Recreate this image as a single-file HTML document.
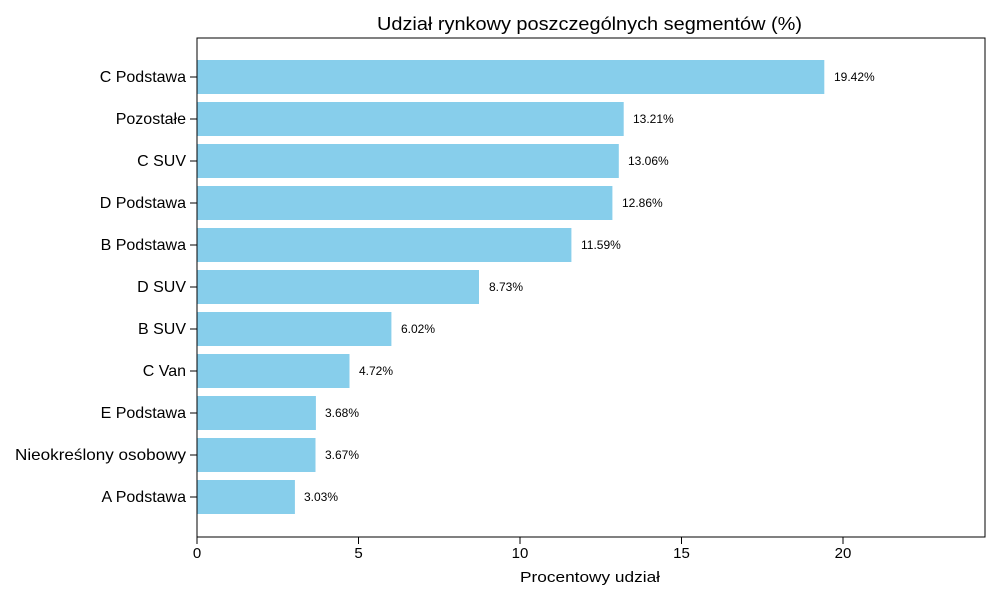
<!DOCTYPE html>
<html><head><meta charset="utf-8"><style>
body{margin:0;background:#fff;}
svg{display:block;font-family:"Liberation Sans",sans-serif;}
</style></head><body>
<svg width="1000" height="600" viewBox="0 0 1000 600" xmlns="http://www.w3.org/2000/svg">
<rect width="1000" height="600" fill="#fff"/>
<text x="377" y="30" font-size="18" textLength="425" lengthAdjust="spacingAndGlyphs" fill="#000">Udział rynkowy poszczególnych segmentów (%)</text>
<g fill="#87CEEB">
<rect x="197" y="60" width="627.3" height="34"/>
<rect x="197" y="102" width="426.7" height="34"/>
<rect x="197" y="144" width="421.8" height="34"/>
<rect x="197" y="186" width="415.4" height="34"/>
<rect x="197" y="228" width="374.4" height="34"/>
<rect x="197" y="270" width="282.0" height="34"/>
<rect x="197" y="312" width="194.4" height="34"/>
<rect x="197" y="354" width="152.5" height="34"/>
<rect x="197" y="396" width="118.9" height="34"/>
<rect x="197" y="438" width="118.5" height="34"/>
<rect x="197" y="480" width="97.9" height="34"/>
</g>
<g font-size="12" fill="#000">
<text x="834" y="81">19.42%</text>
<text x="633" y="123">13.21%</text>
<text x="628" y="165">13.06%</text>
<text x="622" y="207">12.86%</text>
<text x="581" y="249">11.59%</text>
<text x="489" y="291">8.73%</text>
<text x="401" y="333">6.02%</text>
<text x="359" y="375">4.72%</text>
<text x="325" y="417">3.68%</text>
<text x="325" y="459">3.67%</text>
<text x="304" y="501">3.03%</text>
</g>
<rect x="197" y="38" width="788" height="499" fill="none" stroke="#000" stroke-width="1"/>
<g stroke="#000">
<line x1="190" y1="77" x2="197" y2="77"/><line x1="190" y1="119" x2="197" y2="119"/>
<line x1="190" y1="161" x2="197" y2="161"/><line x1="190" y1="203" x2="197" y2="203"/>
<line x1="190" y1="245" x2="197" y2="245"/><line x1="190" y1="287" x2="197" y2="287"/>
<line x1="190" y1="329" x2="197" y2="329"/><line x1="190" y1="371" x2="197" y2="371"/>
<line x1="190" y1="413" x2="197" y2="413"/><line x1="190" y1="455" x2="197" y2="455"/>
<line x1="190" y1="497" x2="197" y2="497"/>
<line x1="197" y1="537" x2="197" y2="544"/><line x1="358.5" y1="537" x2="358.5" y2="544"/>
<line x1="520" y1="537" x2="520" y2="544"/><line x1="681.5" y1="537" x2="681.5" y2="544"/>
<line x1="843" y1="537" x2="843" y2="544"/>
</g>
<g font-size="16" fill="#000" text-anchor="end">
<text x="186" y="82">C Podstawa</text>
<text x="186" y="124">Pozostałe</text>
<text x="186" y="166">C SUV</text>
<text x="186" y="208">D Podstawa</text>
<text x="186" y="250">B Podstawa</text>
<text x="186" y="292">D SUV</text>
<text x="186" y="334">B SUV</text>
<text x="186" y="376">C Van</text>
<text x="186" y="418">E Podstawa</text>
<text x="15" y="460" text-anchor="start" textLength="171" lengthAdjust="spacingAndGlyphs">Nieokreślony osobowy</text>
<text x="186" y="502">A Podstawa</text>
</g>
<g font-size="15" fill="#000" text-anchor="middle">
<text x="197" y="558">0</text><text x="358.5" y="558">5</text>
<text x="520" y="558">10</text><text x="681.5" y="558">15</text>
<text x="843" y="558">20</text>
</g>
<text x="520" y="582" font-size="15" textLength="140" lengthAdjust="spacingAndGlyphs" fill="#000">Procentowy udział</text>
</svg>
</body></html>
